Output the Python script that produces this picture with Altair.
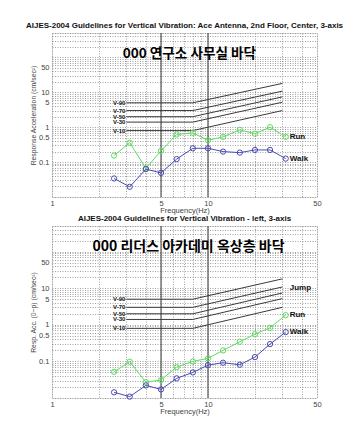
import altair as alt
import pandas as pd

# ---------------- data ----------------
freqs = [2.5, 3.15, 4, 5, 6.3, 8, 10, 12.5, 16, 20, 25, 31.5]

top_run = [0.154, 0.36, 0.066, 0.21, 0.62, 0.69, 0.42, 0.53, 0.84, 0.65, 1.0, 0.53]
top_walk = [0.034, 0.0196, 0.063, 0.049, 0.122, 0.249, 0.249, 0.20, 0.187, 0.223, 0.223, 0.126]

bot_run = [0.052, 0.098, 0.027, 0.031, 0.070, 0.10, 0.121, 0.20, 0.344, 0.556, 0.83, 1.84]
bot_walk = [0.0143, 0.0109, 0.0221, 0.0172, 0.0344, 0.050, 0.079, 0.092, 0.081, 0.131, 0.297, 0.631]

crit_names = ["V-10", "V-30", "V-50", "V-70", "V-90"]
crit_flat = [0.8, 1.4, 2.0, 3.0, 5.0]
crit_end = [3.0, 5.2, 7.4, 10.8, 18.0]
crit_f = [3, 8, 30]          # start of flat part, knee, end

ref_freqs = [5, 10]

x_grid = [1, 2, 3, 4, 5, 6, 7, 8, 9, 10, 20, 30, 40, 50]
x_labels = [1, 5, 10, 50]
y_grid = [0.01, 0.02, 0.03, 0.04, 0.05, 0.06, 0.07, 0.08, 0.09,
          0.1, 0.2, 0.3, 0.4, 0.5, 0.6, 0.7, 0.8, 0.9,
          1, 2, 3, 4, 5, 6, 7, 8, 9,
          10, 20, 30, 40, 50, 60, 70, 80, 90,
          100, 200, 300, 400, 500]
y_labels = [0.1, 0.5, 1, 5, 10, 50]

titles = ["AIJES-2004 Guidelines for Vertical Vibration: Ace Antenna, 2nd Floor, Center, 3-axis",
          "AIJES-2004 Guidelines for Vertical Vibration - left, 3-axis"]
ytitles = ["Response Acceleration (cm/sec²)", "Resp. Acc. (0~p) (cm/sec²)"]
notes = ["000 연구소 사무실 바닥", "000 리더스 아카데미 옥상층 바닥"]
note_pos = [(7.6, 128), (7.5, 135)]
note_size = [13.6, 14]

GREEN = "#5fdc5f"
BLUE = "#4a4ab4"
FONT = "Liberation Sans"


def lbl_expr(vals):
    arr = ",".join(str(v) for v in vals)
    return f"indexof([{arr}], datum.value) >= 0 ? datum.label : ''"


def xenc(title="Frequency(Hz)"):
    return alt.X("f:Q", scale=alt.Scale(type="log", domain=[1, 50], nice=False),
                 axis=alt.Axis(values=x_grid, labelExpr=lbl_expr(x_labels), format="~g",
                               title=title, grid=True, gridDash=[1, 1.5], gridColor="#8c8c8c",
                               gridWidth=0.8, ticks=False, domain=False, labelFontSize=7.5,
                               labelColor="#444", labelFont=FONT, titleFont=FONT,
                               titleFontSize=7.5, titleFontWeight="normal", titleColor="#444",
                               labelPadding=2, titlePadding=0, labelFlush=False))


def yenc(title):
    return alt.Y("v:Q", scale=alt.Scale(type="log", domain=[0.01, 500], nice=False),
                 axis=alt.Axis(values=y_grid, labelExpr=lbl_expr(y_labels), format="~g",
                               title=title, grid=True, gridDash=[1, 1.5], gridColor="#8c8c8c",
                               gridWidth=0.8, ticks=False, domain=False, labelFontSize=7.5,
                               labelColor="#444", labelFont=FONT, titleFont=FONT,
                               titleFontSize=6.8, titleFontWeight="normal", titleColor="#444",
                               labelPadding=3, titlePadding=2, labelFlush=False))


def panel(i, run, walk, height, extra_jump):
    xe = xenc()
    ye = yenc(ytitles[i])
    xs = alt.X("f:Q", scale=alt.Scale(type="log", domain=[1, 50], nice=False))
    ys = alt.Y("v:Q", scale=alt.Scale(type="log", domain=[0.01, 500], nice=False))

    rows = []
    for n, a, b in zip(crit_names, crit_flat, crit_end):
        rows.append({"name": n, "f": crit_f[0], "v": a})
        rows.append({"name": n, "f": crit_f[1], "v": a})
        rows.append({"name": n, "f": crit_f[2], "v": b})
    crit = pd.DataFrame(rows)
    crit_lab = pd.DataFrame({"name": crit_names, "f": [crit_f[0]] * 5, "v": crit_flat})

    refs = pd.DataFrame({"f": ref_freqs})
    base_rule = alt.Chart(refs).mark_rule(color="#555", strokeWidth=1.2).encode(
        x=xs, y=alt.value(0), y2=alt.value(height))

    grid_layer = alt.Chart(pd.DataFrame({"f": [1, 50], "v": [0.01, 500]})).mark_point(
        opacity=0).encode(x=xe, y=ye)

    crit_lines = alt.Chart(crit).mark_line(color="#3a3a3a", strokeWidth=1).encode(
        x=xs, y=ys, detail="name:N")
    crit_text = alt.Chart(crit_lab).mark_text(align="right", baseline="middle", dx=-1,
                                              font=FONT, fontSize=6, fontWeight="bold",
                                              color="#111").encode(x=xs, y=ys, text="name:N")

    df_run = pd.DataFrame({"f": freqs, "v": run})
    df_walk = pd.DataFrame({"f": freqs, "v": walk})
    run_l = alt.Chart(df_run).mark_line(color=GREEN, strokeWidth=1,
                                        point=alt.OverlayMarkDef(filled=False, shape="circle",
                                                                 size=28, color=GREEN,
                                                                 strokeWidth=1)).encode(x=xs, y=ys)
    walk_l = alt.Chart(df_walk).mark_line(color=BLUE, strokeWidth=1,
                                          point=alt.OverlayMarkDef(filled=False, shape="circle",
                                                                   size=28, color=BLUE,
                                                                   strokeWidth=1)).encode(x=xs, y=ys)

    end_names = ["Run", "Walk"]
    end_vals = [run[-1], walk[-1]]
    if extra_jump:
        end_names.append("Jump")
        end_vals.append(extra_jump)
    ends = pd.DataFrame({"name": end_names, "f": [freqs[-1]] * len(end_names), "v": end_vals})
    end_text = alt.Chart(ends).mark_text(align="left", baseline="middle", dx=4, font=FONT,
                                         fontSize=8, fontWeight="bold", color="#111").encode(
        x=xs, y=ys, text="name:N")

    nd = pd.DataFrame({"t": [notes[i]], "f": [note_pos[i][0]], "v": [note_pos[i][1]]})
    note = alt.Chart(nd).mark_text(font="Noto Sans CJK KR", fontSize=note_size[i],
                                   fontWeight="bold", color="#000",
                                   baseline="middle").encode(x=xs, y=ys, text="t:N")

    return alt.layer(grid_layer, base_rule, crit_lines, crit_text, run_l, walk_l, end_text,
                     note).properties(
        width=265, height=height,
        title=alt.TitleParams(titles[i], font=FONT, fontSize=8, fontWeight="bold",
                              color="#111", offset=0, anchor="middle"))


top = panel(0, top_run, top_walk, 164, None)
bottom = panel(1, bot_run, bot_walk, 172, 10.4)

chart = alt.vconcat(top, bottom, spacing=29, bounds="flush").configure_view(
    stroke="#000", strokeWidth=1).configure(background="white").properties(
    padding={"left": 17, "top": 13, "right": 5, "bottom": 5})

chart.save("out.html", embed_options={"renderer": "svg", "actions": False})
